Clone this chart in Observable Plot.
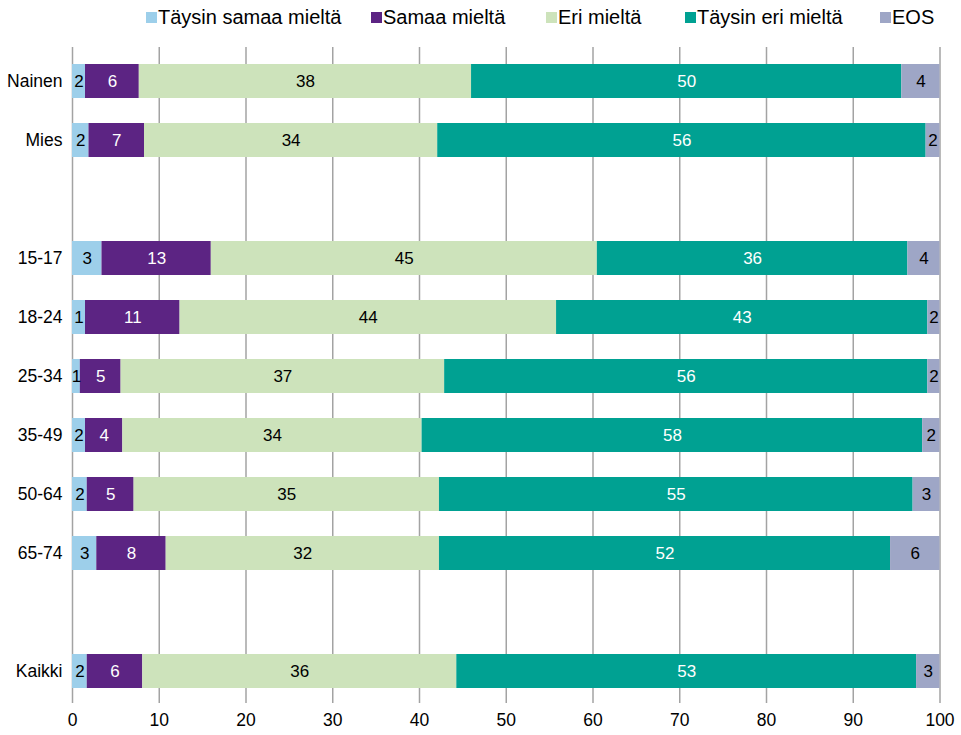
<!DOCTYPE html>
<html>
<head>
<meta charset="utf-8">
<script src="https://cdn.jsdelivr.net/npm/d3@7"></script>
<script src="https://cdn.jsdelivr.net/npm/@observablehq/plot@0.6"></script>
<style>
  body { margin: 0; background: #fff; font-family: "Liberation Sans", Arial, sans-serif; }
  #legend { position: relative; width: 961px; height: 40px; }
  .item { position: absolute; top: 5px; height: 24px; display: flex; align-items: center; font-size: 20px; color: #000; white-space: nowrap; }
  .sw { width: 11px; height: 11px; margin-right: 1px; }
</style>
</head>
<body>
<div id="legend"></div>
<div id="chart"></div>
<script>
const groups = ["Nainen", "Mies", "15-17", "18-24", "25-34", "35-49", "50-64", "65-74", "Kaikki"];
const rows = ["Nainen", "Mies", "_gap1", "15-17", "18-24", "25-34", "35-49", "50-64", "65-74", "_gap2", "Kaikki"];
const seriesNames = ["Täysin samaa mieltä", "Samaa mieltä", "Eri mieltä", "Täysin eri mieltä", "EOS"];
const colors = ["#9dcfea", "#5c2483", "#cde3bb", "#00a192", "#9ea6c6"];
const darkSeries = ["Samaa mieltä", "Täysin eri mieltä"];

// bar widths (percent)
const taysinSamaa = [1.5, 1.9, 3.4, 1.5, 0.9, 1.5, 1.7, 2.8, 1.7];
const samaa       = [6.2, 6.4, 12.6, 10.9, 4.7, 4.3, 5.4, 8.0, 6.4];
const eri         = [38.3, 33.8, 44.5, 43.4, 37.3, 34.5, 35.2, 31.5, 36.2];
const taysinEri   = [49.6, 56.3, 35.8, 42.8, 55.7, 57.7, 54.6, 52.0, 53.0];
const eos         = [4.4, 1.6, 3.7, 1.4, 1.4, 2.0, 3.1, 5.7, 2.7];

// printed labels
const labTaysinSamaa = [2, 2, 3, 1, 1, 2, 2, 3, 2];
const labSamaa       = [6, 7, 13, 11, 5, 4, 5, 8, 6];
const labEri         = [38, 34, 45, 44, 37, 34, 35, 32, 36];
const labTaysinEri   = [50, 56, 36, 43, 56, 58, 55, 52, 53];
const labEos         = [4, 2, 4, 2, 2, 2, 3, 6, 3];

const xTicks = [0, 10, 20, 30, 40, 50, 60, 70, 80, 90, 100];

const valueSets = [taysinSamaa, samaa, eri, taysinEri, eos];
const labelSets = [labTaysinSamaa, labSamaa, labEri, labTaysinEri, labEos];
const data = [];
groups.forEach((g, i) => {
  seriesNames.forEach((s, j) => {
    data.push({group: g, series: s, value: valueSets[j][i], label: String(labelSets[j][i])});
  });
});

// legend
const legendPos = [146, 371, 546, 685, 880];
const legend = document.getElementById("legend");
seriesNames.forEach((s, j) => {
  const it = document.createElement("div");
  it.className = "item";
  it.style.left = legendPos[j] + "px";
  it.innerHTML = `<span class="sw" style="background:${colors[j]}"></span><span>${s}</span>`;
  legend.appendChild(it);
});

const stackOpts = {x: "value", y: "group", z: "series", order: seriesNames};

const chart = Plot.plot({
  width: 961,
  height: 695,
  marginTop: 7,
  marginBottom: 32,
  marginLeft: 72,
  marginRight: 21.5,
  style: {fontFamily: "'Liberation Sans', Arial, sans-serif", fontSize: "17.5px", color: "#000", background: "#fff", overflow: "visible"},
  x: {domain: [0, 100], ticks: xTicks, label: null, tickSize: 0, tickPadding: 10},
  y: {domain: rows, range: [8.4, 662.6], paddingInner: 0.428, paddingOuter: 0.214, label: null,
      tickSize: 0, tickPadding: 10, tickFormat: d => d.startsWith("_") ? "" : d},
  color: {domain: seriesNames, range: colors},
  marks: [
    Plot.ruleX(xTicks, {stroke: "#a3a3a3", strokeWidth: 1.5}),
    Plot.barX(data, Plot.stackX({...stackOpts, fill: "series"})),
    Plot.textX(data, Plot.stackX({...stackOpts, text: d => darkSeries.includes(d.series) ? "" : d.label, fill: "#000", fontSize: 17})),
    Plot.textX(data, Plot.stackX({...stackOpts, text: d => darkSeries.includes(d.series) ? d.label : "", fill: "#fff", fontSize: 17}))
  ]
});
document.getElementById("chart").appendChild(chart);
</script>
</body>
</html>
